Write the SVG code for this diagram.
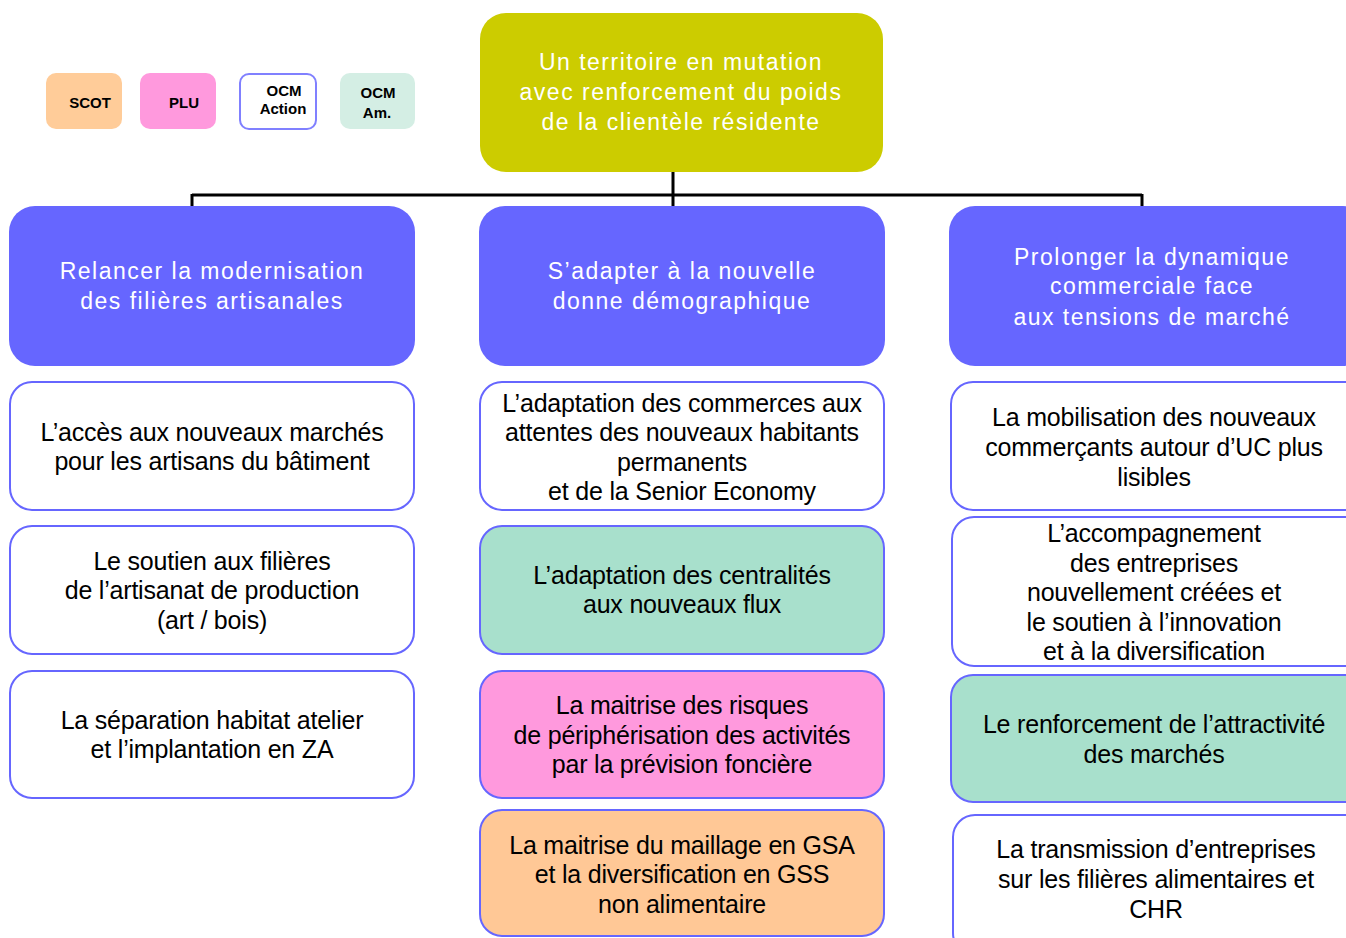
<svg xmlns="http://www.w3.org/2000/svg" width="1346" height="938" viewBox="0 0 1346 938">
<style>
.hd{fill:#6666FF;}
.bx{stroke:#6666FF;stroke-width:2;}
.w{fill:#FFFFFF;}
.g{fill:#A8E0CC;}
.p{fill:#FF99DD;}
.o{fill:#FFC896;}
.ht{font-family:"Liberation Sans",Arial,sans-serif;font-size:23px;fill:#FFFFFF;text-anchor:middle;letter-spacing:1.5px;}
.bt{font-family:"Liberation Sans",Arial,sans-serif;font-size:25px;fill:#000000;text-anchor:middle;letter-spacing:-0.2px;}
.lt{font-family:"Liberation Sans",Arial,sans-serif;font-size:15px;font-weight:bold;fill:#000000;text-anchor:middle;}
.cn{stroke:#000000;stroke-width:3;fill:none;}
</style>
<rect width="1346" height="938" fill="#FFFFFF"/>
<g id="legend">
<g id="leg-scot"><rect x="46" y="73" width="76" height="56" rx="10" fill="#FFCC99"/><text class="lt" x="90" y="108">SCOT</text></g>
<g id="leg-plu"><rect x="140" y="73" width="76" height="56" rx="10" fill="#FF99DD"/><text class="lt" x="184" y="108">PLU</text></g>
<g id="leg-ocma"><rect x="240" y="74" width="76" height="55" rx="9" fill="#FFFFFF" stroke="#8080FF" stroke-width="2"/><text class="lt" x="284" y="96">OCM</text><text class="lt" x="283" y="114">Action</text></g>
<g id="leg-ocmam"><rect x="340" y="73" width="75" height="56" rx="10" fill="#D4EEE4"/><text class="lt" x="378" y="98">OCM</text><text class="lt" x="377" y="118">Am.</text></g>
</g>
<g id="connectors">
<path class="cn" d="M673 172 V207 M192 195 H1142 M192 194 V207 M1142 194 V207"/>
</g>
<g id="top"><rect x="480" y="13" width="403" height="159" rx="26" fill="#CCCC00"/>
<text class="ht" x="681" y="70">Un territoire en mutation</text>
<text class="ht" x="681" y="100">avec renforcement du poids</text>
<text class="ht" x="681" y="130">de la clientèle résidente</text></g>
<g id="h1"><rect class="hd" x="9" y="206" width="406" height="160" rx="26"/>
<text class="ht" x="212" y="279">Relancer la modernisation</text>
<text class="ht" x="212" y="309">des filières artisanales</text></g>
<g id="h2"><rect class="hd" x="479" y="206" width="406" height="160" rx="26"/>
<text class="ht" x="682" y="279">S’adapter à la nouvelle</text>
<text class="ht" x="682" y="309">donne démographique</text></g>
<g id="h3"><rect class="hd" x="949" y="206" width="420" height="160" rx="26"/>
<text class="ht" x="1152" y="265">Prolonger la dynamique</text>
<text class="ht" x="1152" y="294">commerciale face</text>
<text class="ht" x="1152" y="325">aux tensions de marché</text></g>
<g id="c1b1"><rect class="bx w" x="10" y="382" width="404" height="128" rx="22"/>
<text class="bt" x="212" y="441">L’accès aux nouveaux marchés</text>
<text class="bt" x="212" y="470">pour les artisans du bâtiment</text></g>
<g id="c1b2"><rect class="bx w" x="10" y="526" width="404" height="128" rx="22"/>
<text class="bt" x="212" y="570">Le soutien aux filières</text>
<text class="bt" x="212" y="599">de l’artisanat de production</text>
<text class="bt" x="212" y="629">(art / bois)</text></g>
<g id="c1b3"><rect class="bx w" x="10" y="671" width="404" height="127" rx="22"/>
<text class="bt" x="212" y="729">La séparation habitat atelier</text>
<text class="bt" x="212" y="758">et l’implantation en ZA</text></g>
<g id="c2b1"><rect class="bx w" x="480" y="382" width="404" height="128" rx="22"/>
<text class="bt" x="682" y="412">L’adaptation des commerces aux</text>
<text class="bt" x="682" y="441">attentes des nouveaux habitants</text>
<text class="bt" x="682" y="471">permanents</text>
<text class="bt" x="682" y="500">et de la Senior Economy</text></g>
<g id="c2b2"><rect class="bx g" x="480" y="526" width="404" height="128" rx="22"/>
<text class="bt" x="682" y="584">L’adaptation des centralités</text>
<text class="bt" x="682" y="613">aux nouveaux flux</text></g>
<g id="c2b3"><rect class="bx p" x="480" y="671" width="404" height="127" rx="22"/>
<text class="bt" x="682" y="714">La maitrise des risques</text>
<text class="bt" x="682" y="744">de périphérisation des activités</text>
<text class="bt" x="682" y="773">par la prévision foncière</text></g>
<g id="c2b4"><rect class="bx o" x="480" y="810" width="404" height="126" rx="22"/>
<text class="bt" x="682" y="854">La maitrise du maillage en GSA</text>
<text class="bt" x="682" y="883">et la diversification en GSS</text>
<text class="bt" x="682" y="913">non alimentaire</text></g>
<g id="c3b1"><rect class="bx w" x="951" y="382" width="420" height="128" rx="22"/>
<text class="bt" x="1154" y="426">La mobilisation des nouveaux</text>
<text class="bt" x="1154" y="456">commerçants autour d’UC plus</text>
<text class="bt" x="1154" y="486">lisibles</text></g>
<g id="c3b2"><rect class="bx w" x="952" y="517" width="420" height="149" rx="22"/>
<text class="bt" x="1154" y="542">L’accompagnement</text>
<text class="bt" x="1154" y="572">des entreprises</text>
<text class="bt" x="1154" y="601">nouvellement créées et</text>
<text class="bt" x="1154" y="631">le soutien à l’innovation</text>
<text class="bt" x="1154" y="660">et à la diversification</text></g>
<g id="c3b3"><rect class="bx g" x="951" y="675" width="420" height="127" rx="22"/>
<text class="bt" x="1154" y="733">Le renforcement de l’attractivité</text>
<text class="bt" x="1154" y="763">des marchés</text></g>
<g id="c3b4"><rect class="bx w" x="953" y="815" width="420" height="140" rx="22"/>
<text class="bt" x="1156" y="858">La transmission d’entreprises</text>
<text class="bt" x="1156" y="888">sur les filières alimentaires et</text>
<text class="bt" x="1156" y="918">CHR</text></g>
</svg>
